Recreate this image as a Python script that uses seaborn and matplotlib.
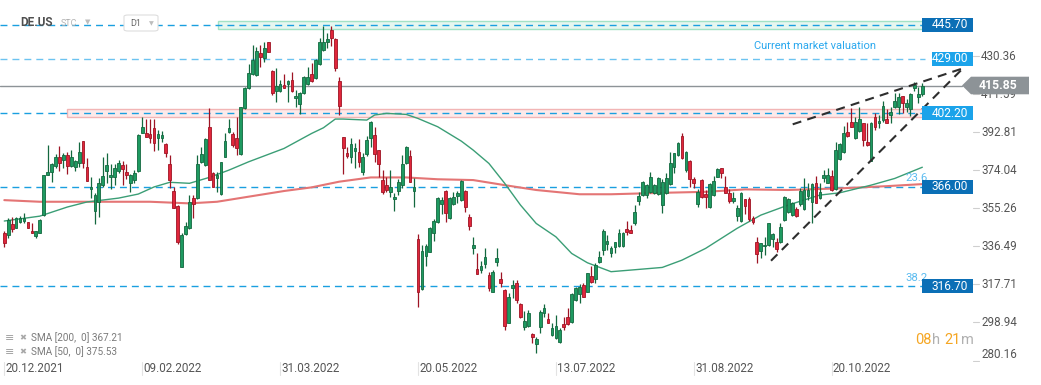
import matplotlib
matplotlib.use("Agg")
import matplotlib.pyplot as plt
import matplotlib.patches as mpatches
import matplotlib.transforms as mtransforms
import seaborn as sns
import pandas as pd

sns.set_style("white")
plt.rcParams['font.family'] = ['Roboto', 'DejaVu Sans']
plt.rcParams['lines.scale_dashes'] = False

# --- dados (DE.US, D1) ---
opens = [343, 342.1, 347.3, 345.7, 348.7, 349, 348.3, 344, 341.8, 343.2,
         351.8, 371.5, 373.3, 376.1, 380.4, 379.1, 381.5, 376.3, 375.5, 377.4,
         388.3, 375.5, 364.6, 353.8, 358.4, 366.7, 373.5, 370.5, 370.5, 373.5,
         376.6, 373.2, 367.6, 369.2, 373.8, 392.2, 392.2, 391.9, 394.7, 389.8,
         390.1, 386.8, 377, 363.8, 356.4, 326.5, 342.4, 345.4, 360.2, 360.2,
         377.9, 376.6, 395.2, 372.5, 370, 362.2, 380.7, 393.1, 391.7, 389.8,
         381.9, 404.6, 414.8, 421.3, 421, 431.7, 429.6, 437.1, 423, 413.1,
         413.1, 416.1, 416.7, 418.5, 409.5, 406.5, 412, 416.4, 421.3, 419.4,
         426.3, 433.3, 437.4, 443.2, 438.8, 418, 390.6, 382.7, 380.7, 383.7,
         383.2, 373, 381.9, 390.1, 391.4, 384, 369.2, 366.8, 363.1, 359.7,
         363.8, 366.8, 377.8, 381.1, 363.9, 340.1, 315.5, 331.9, 333.9, 342.9,
         348.3, 357.2, 363.8, 350.3, 357.2, 361.5, 359.3, 363.8, 350.8, 335.5,
         325.1, 324.8, 327.8, 322.4, 314.1, 328.9, 320.4, 315, 298.8, 315.8,
         318.2, 308, 296.5, 297.2, 293.3, 288.1, 296.9, 303.4, 300.5, 292.8,
         291.1, 289.5, 298.2, 301.5, 299.3, 310, 313, 317.4, 314.1, 321.9,
         320.2, 328.9, 334.7, 337.6, 333.4, 336.3, 336.7, 336.7, 345, 344.5,
         348.2, 359, 361.8, 361.8, 363.5, 363, 362.3, 356.9, 363, 367.2,
         375.5, 381.5, 390.9, 374.1, 378.7, 369.5, 357.2, 369.2, 362.3, 355.7,
         361.8, 370.9, 375, 365.6, 362.6, 358.9, 351.6, 349.2, 359.7, 359.7,
         350.3, 338.8, 334.4, 336.5, 337.2, 340, 338.8, 338.8, 349.5, 353.6,
         352, 354.7, 357.4, 354.8, 361.3, 358.5, 367.6, 360.2, 370, 367.9,
         371.2, 364.6, 379.4, 383.2, 393.1, 398, 389.8, 393.6, 397.2, 388.1,
         378.7, 400.5, 397.2, 398.8, 399.1, 401.3, 405.1, 405.4, 410.6, 405.4,
         404.1, 414.4, 410.3, 411.6]
highs = [344, 350.3, 350.8, 351.1, 351.5, 352.8, 348.7, 348.2, 343.9, 350,
         371.9, 386.5, 377.4, 382, 386, 382.4, 383.2, 384, 379.1, 387.8,
         388.3, 379.9, 370.5, 362.6, 370, 380.4, 382.4, 377.1, 377.1, 379.1,
         378.6, 377.1, 372.2, 374.2, 391.9, 400.1, 399.1, 399.1, 399.1, 393.9,
         393.4, 387.3, 381.5, 366, 356.9, 342.9, 348.7, 361.8, 361.8, 381.5,
         385.7, 389.8, 404.6, 373.3, 373.3, 378.3, 392.2, 399.3, 393.1, 400.5,
         405.4, 415.3, 426.3, 435.8, 435, 435.8, 437.1, 437.4, 423.5, 424.3,
         418.5, 421.3, 418.5, 422.3, 413.6, 412.5, 420.7, 425.1, 426.8, 428.9,
         439.1, 445.3, 441.6, 445.3, 439.1, 420.2, 390.6, 385.7, 389.8, 387.3,
         389.4, 382.4, 391.1, 398.3, 395.5, 384, 374.2, 370.9, 374.2, 362.6,
         369.7, 381.5, 386, 384, 370, 342.4, 337.2, 337.5, 346.2, 350,
         361, 361, 364.3, 361, 363.5, 364, 369.2, 364.3, 352.4, 340.9,
         333, 329.4, 335.5, 324, 324.8, 335.5, 323.7, 315.3, 313.6, 319.9,
         319.9, 308.4, 304.6, 305.1, 293.9, 291.9, 305.1, 308, 303.4, 298.5,
         302.6, 296.1, 301.8, 305.9, 313.3, 316.6, 317.9, 318.2, 323.5, 326.8,
         328.1, 334.4, 344.9, 342.1, 336.7, 338.8, 344.9, 343.7, 349, 347,
         356.9, 363.5, 368.9, 367.2, 373.3, 367.2, 370.5, 369.5, 372.5, 383.2,
         382.7, 388.1, 392.2, 383.5, 379.1, 370.5, 364.6, 369.5, 364.3, 367.6,
         371.2, 375.3, 375.3, 371.2, 364.6, 363.5, 356.9, 363.5, 359.7, 360.7,
         351.5, 340.9, 338.3, 341.3, 348.2, 343.2, 340.5, 348.2, 361.3, 360.2,
         358.5, 355.7, 365.1, 370, 367.9, 367.6, 371.2, 367.6, 374.1, 375,
         374.1, 388.1, 387.6, 395.9, 398, 404.6, 400.1, 405.1, 397.5, 397.5,
         398, 402.1, 401.3, 408.3, 404.1, 405.1, 412.3, 412, 410.6, 409,
         412.3, 417.7, 415.3, 417.2]
lows = [336, 340.5, 343.7, 345.4, 347.8, 348.2, 345.4, 342.9, 340.5, 342.9,
        351.5, 371.5, 368.4, 375, 373.8, 375, 372.2, 375.8, 373.8, 375.8,
        375, 368.6, 360.2, 347.5, 350.8, 365.6, 367.9, 364.6, 366.7, 372.5,
        366.7, 369.5, 363.5, 367.9, 373.3, 392.2, 390.6, 387.3, 383.7, 384,
        388.1, 380.7, 365.1, 355.2, 337.5, 326.5, 342.1, 345, 350.3, 359.9,
        377.4, 376.3, 369.2, 365.9, 363.5, 361.8, 380.7, 392.2, 385.7, 381.5,
        381.5, 404.2, 414.1, 421, 420.7, 425.1, 427.3, 432.2, 411.1, 407.5,
        412.8, 414.4, 407.5, 412.8, 405.4, 401.6, 411.5, 416.1, 417.7, 419,
        425.9, 432.8, 434.2, 435.5, 423, 401.3, 372, 379.9, 377.4, 375,
        375.8, 371.7, 381.2, 385.7, 378.3, 370.9, 362.3, 363.5, 361, 354.1,
        361.8, 365.4, 377, 368.1, 356.1, 306.7, 315, 327, 333.5, 339.1,
        347.9, 352.3, 348.3, 350, 356.9, 357.7, 359, 353.6, 344.5, 332.7,
        322.9, 323.2, 325.6, 314.6, 313.8, 326.8, 316.6, 295.2, 298.5, 310.8,
        308.7, 301, 295.2, 296.5, 288.6, 284, 293.9, 301.5, 298.5, 292.3,
        290.6, 289, 295.2, 297.7, 298.8, 309.7, 308.7, 311.4, 313.8, 318.2,
        318.6, 328.1, 332.2, 334.7, 331.1, 333.4, 336.3, 336.3, 342.1, 342.9,
        347, 356.9, 361.3, 360.2, 363, 362.3, 361.8, 353.1, 362.3, 366.7,
        372.8, 381, 379.4, 373.3, 365.9, 365.1, 355.7, 360.2, 355.2, 355.2,
        361.3, 370.5, 370, 362.6, 357.7, 357.7, 349.2, 348.7, 352.4, 349.2,
        347.5, 328.1, 330.6, 332.2, 336.7, 336.3, 333.9, 338.3, 349.2, 353.1,
        351.5, 350.8, 356.4, 354.4, 359.4, 348.2, 357.7, 359.7, 368.4, 367.6,
        364, 364.3, 379.1, 382.7, 390.6, 395.2, 389.3, 393.1, 386, 386,
        378.7, 393.9, 394.7, 398, 397.2, 397.2, 404.6, 401.8, 402.1, 402.9,
        400.8, 413.3, 407.4, 410.6]
closes = [338.3, 349.5, 345.2, 350.3, 350.6, 350.6, 345.7, 342.9, 343.9, 349.5,
          371.5, 373.2, 377.1, 380.4, 377.8, 381.5, 376.1, 380.4, 378.8, 382.9,
          377.8, 368.6, 365.6, 361.7, 367.9, 371.2, 376.5, 371.7, 375, 377.4,
          374.5, 371.5, 371.7, 372.5, 391.4, 395.2, 390.6, 389.8, 387.6, 391.7,
          391.4, 382.4, 369.2, 355.2, 338.8, 342.1, 346.7, 358.5, 357.2, 377,
          381.9, 389.3, 369.2, 365.9, 371.7, 377.9, 388.5, 394.7, 386.5, 385.2,
          405.1, 414.8, 421.8, 428.4, 432.8, 430, 434.2, 432.5, 412, 415.7,
          416.4, 414.8, 418, 413.1, 410.8, 412, 420.2, 420.2, 418, 428.4,
          437.1, 437.1, 438.8, 439.4, 424.6, 405.9, 385.2, 381.2, 386.8, 384.8,
          378.3, 380.4, 389, 397.7, 381.9, 377.3, 363.1, 364.3, 365.9, 361,
          368.1, 377, 385.5, 368.4, 365.8, 314.1, 334.2, 336.8, 345.7, 349,
          360.5, 359.4, 352.8, 360.2, 361, 363, 368.9, 355.7, 346.7, 337.1,
          322.9, 326.8, 331.1, 315.8, 324, 330.9, 318.2, 297.2, 311.7, 317.4,
          310, 301.5, 299.8, 303.8, 292, 290.6, 304.3, 305.9, 298.8, 296.1,
          297.2, 295.2, 296.9, 298.2, 313, 315.8, 316.6, 311.7, 323.2, 319.1,
          327.3, 331.4, 344.2, 339.2, 335.5, 338.5, 342.9, 342.9, 343.7, 343.2,
          353.3, 361.3, 368.4, 366.7, 370.5, 366.7, 370, 368.4, 370, 377.4,
          382.4, 387.6, 379.9, 383.2, 369.5, 367.6, 363.5, 360.7, 360.7, 367.1,
          368.7, 374.5, 372.8, 363, 359, 360.2, 355.2, 363, 356.4, 349.8,
          348.7, 332.5, 338, 336.7, 347.8, 342.4, 335, 345.9, 360.7, 359.7,
          358, 351.5, 364, 364.3, 364.3, 367.2, 358, 363.5, 371.5, 371.7,
          364.3, 384, 387, 392.2, 390.9, 395.5, 398, 399.1, 388.9, 386.5,
          397.5, 395.2, 398.5, 405.7, 397.5, 402.9, 408.3, 410.3, 407.4, 407.4,
          411.6, 416.1, 411.6, 415.85]

# médias móveis
sma200_idx = [0, 9, 37, 47, 54, 62, 71, 78, 85, 93, 102, 110, 119, 127, 135,
              146, 154, 169, 178, 188, 199, 212, 224, 233]
sma200_val = [359.3, 358.5, 358.5, 357.7, 358.5, 361, 363.8, 365.6, 368.4, 370.5,
              370.5, 369.6, 369.2, 366.7, 364.3, 362.2, 362.2, 363, 363.4, 364.6,
              364.3, 365.1, 366.2, 367.21]
sma50_idx = [0, 9, 16, 21, 29, 34, 38, 42, 47, 52, 57, 62, 71, 78, 81, 84, 86,
             92, 94, 97, 102, 105, 110, 116, 119, 123, 127, 131, 135, 140, 144,
             148, 154, 159, 167, 172, 178, 186, 192, 199, 207, 212, 220, 226, 233]
sma50_val = [349, 351.4, 355.9, 358.4, 360.3, 362.3, 365.8, 368.1, 367.6, 370.5,
             374.1, 378.2, 384.8, 392.2, 395, 399.3, 399.3, 398.8, 401.3, 402.1,
             401.6, 399.6, 395.5, 388.4, 384, 377.4, 367.6, 356.9, 347.8, 341.2,
             333, 328.4, 324, 324.8, 326.1, 329.7, 335.5, 345.4, 351.9, 356.9,
             361.8, 362.9, 366.7, 370, 375.53]

# níveis horizontais
levels = [445.70, 429.00, 402.20, 366.00, 316.70]
level_box = ['#0b6fb6', '#1ba3ea', '#1ba3ea', '#0b6fb6', '#0b6fb6']
current_price = 415.85
price_ticks = [430.36, 411.59, 392.81, 374.04, 355.26, 336.49, 317.71, 298.94, 280.16]
date_pos = [0, 35, 70, 105, 140, 175, 210]
date_labels = ['20.12.2021', '09.02.2022', '31.03.2022', '20.05.2022',
               '13.07.2022', '31.08.2022', '20.10.2022']
fib_labels = ['23.6', '38.2']
fib_levels = [366.00, 316.70]
wedge_lower = ([194.6, 243.3], [329.4, 424.3])
wedge_upper = ([200.1, 243.3], [396.7, 424.3])

W, H = 1041, 385


def px2x(px):
    return (px - 4.3) / 3.94


fig = plt.figure(figsize=(W / 100, H / 100), dpi=100)
ax = fig.add_axes([0, 23 / H, 1, 362 / H])
ax.set_xlim(px2x(0), px2x(W))
ax.set_ylim(279.45, 458.03)
ax.axis('off')
upp = (458.03 - 279.45) / 362  # unidades de preço por pixel

# zonas
ax.add_patch(mpatches.Rectangle((px2x(218), 443.5), px2x(932) - px2x(218), 4.3,
                                facecolor='#e6f7ef', edgecolor='#a3e2c6', lw=1, zorder=1))
ax.add_patch(mpatches.Rectangle((px2x(67), 400.1), px2x(932) - px2x(67), 4.0,
                                facecolor='#fdeaea', edgecolor='#f2b5b5', lw=1, zorder=1))

# linhas tracejadas dos níveis
for lv in levels:
    col = '#6cc3f0' if lv == 429.00 else '#1a9fe0'
    ax.plot([px2x(0), px2x(925)], [lv, lv], color=col, lw=1.0,
            dashes=(5, 3.6), zorder=2)
ax.plot([px2x(0), px2x(962)], [current_price] * 2, color='#8d9397', lw=1.0, zorder=2)

# médias móveis
sns.lineplot(x=sma200_idx, y=sma200_val, ax=ax, color='#e47575', lw=1.5, zorder=3)
sns.lineplot(x=sma50_idx, y=sma50_val, ax=ax, color='#3b9e76', lw=1.0, zorder=3)

# velas
df = pd.DataFrame({'o': opens, 'h': highs, 'l': lows, 'c': closes})
df['x'] = range(len(df))
up = df[df.c >= df.o]
dn = df[df.c < df.o]
for sub, fc, ec in [(up, '#1e9a61', '#13683f'), (dn, '#e0263b', '#9e1424')]:
    ax.vlines(sub.x, sub.l, sub.h, color=ec, lw=0.9, zorder=4)
    hgt = (sub.c - sub.o).abs().clip(lower=0.6)
    ax.bar(sub.x, hgt, bottom=sub[['o', 'c']].min(axis=1), width=0.7,
           color=fc, edgecolor=ec, lw=0.6, zorder=5)

# cunha
for xs, ys in [wedge_lower, wedge_upper]:
    ax.plot(xs, ys, color='#2e2e2e', lw=1.5, dashes=(6.5, 4.5), zorder=6)

# caixas dos níveis
for lv, bc in zip(levels, level_box):
    left = 932 if lv == 429.00 else 922
    ax.add_patch(mpatches.Rectangle((px2x(left), lv - 7 * upp), px2x(973) - px2x(left),
                                    14 * upp, facecolor=bc, edgecolor='none', zorder=7))
    ax.text(px2x(950), lv, f'{lv:.2f}', color='white', fontsize=8.6,
            ha='center', va='center', zorder=8)

# preço atual
tip = px2x(962)
ax.add_patch(mpatches.Polygon([(tip, current_price),
                               (px2x(971), current_price + 8.8 * upp),
                               (px2x(1029), current_price + 8.8 * upp),
                               (px2x(1029), current_price - 8.8 * upp),
                               (px2x(971), current_price - 8.8 * upp)],
                              closed=True, facecolor='#8d9397', edgecolor='none', zorder=7))

# eixo de preços
for i, t in enumerate(price_ticks):
    ax.plot([px2x(973), px2x(979)], [t, t], color='#cfcfcf', lw=0.8, zorder=6)
    ax.text(px2x(981), t, f'{t:.2f}', color='#555555', fontsize=8.4, ha='left',
            va='bottom' if i == len(price_ticks) - 1 else 'center', zorder=6)
ax.text(px2x(998), current_price, f'{current_price:.2f}', color='white',
        fontsize=8.8, fontweight='bold', ha='center', va='center', zorder=8)

# eixo de datas
trans = mtransforms.blended_transform_factory(ax.transData, ax.transAxes)
for p, lab in zip(date_pos, date_labels):
    ax.plot([p, p], [0, -13 / 362], color='#e3e3e3', lw=0.8, transform=trans,
            clip_on=False)
    ax.text(p + 0.3, -6 / 362, lab, transform=trans, color='#555555', fontsize=8.4,
            ha='left', va='center', clip_on=False)

# textos
ax.text(px2x(754), 429.00 + 6.5, 'Current market valuation', color='#2aa8ee',
        fontsize=8, ha='left', va='center', zorder=6)
for lab, lv in zip(fib_labels, fib_levels):
    ax.text(px2x(905), lv + 4.3, lab, color='#5cbcf0', fontsize=8.2,
            ha='left', va='center', zorder=6)


def ftext(px, py, s, **kw):
    fig.text(px / W, 1 - py / H, s, **kw)


ftext(20, 23, 'DE.US', fontsize=8.5, fontweight='bold', color='#4f4f4f', va='center')
ftext(61, 24, 'STC', fontsize=6.5, color='#b3b3b3', va='center')
ftext(88, 22, '▼', fontsize=5, color='#bdbdbd', va='center', ha='center',
      family=['DejaVu Sans'])
fig.add_artist(mpatches.FancyBboxPatch((124 / W, 1 - 31 / H), 34 / W, 16 / H,
                                       boxstyle='round,pad=0,rounding_size=0.004',
                                       transform=fig.transFigure, facecolor='white',
                                       edgecolor='#dedede', lw=0.8))
ftext(130, 23, 'D1', fontsize=6.5, color='#666666', va='center')
ftext(151, 23.5, '▼', fontsize=4.5, color='#bdbdbd', va='center', ha='center',
      family=['DejaVu Sans'])

for py, s in [(338, 'SMA [200,  0] 367.21'), (352, 'SMA [50,  0] 375.53')]:
    ftext(10, py, '≡', fontsize=8, color='#a0a0a0', va='center', ha='center',
          family=['DejaVu Sans'])
    ftext(23, py, '✖', fontsize=6, color='#a8a8a8', va='center', ha='center',
          family=['DejaVu Sans'])
    ftext(31, py, s, fontsize=7.2, color='#7a7a7a', va='center')

ftext(915, 340, '08', fontsize=10.5, color='#f5a623', va='center')
ftext(932, 340, 'h', fontsize=10.5, color='#b0b0b0', va='center')
ftext(944, 340, '21', fontsize=10.5, color='#f5a623', va='center')
ftext(961, 340, 'm', fontsize=10.5, color='#b0b0b0', va='center')

fig.savefig('out.png', dpi=100)
